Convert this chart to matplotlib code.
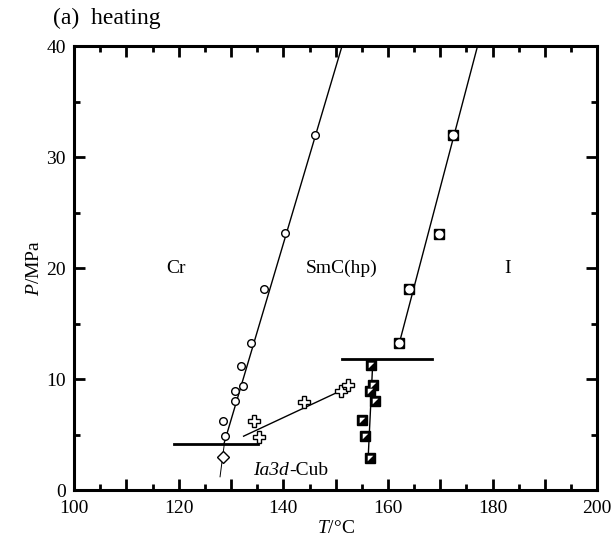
import matplotlib
matplotlib.use('Agg')
from matplotlib import pyplot as plt
from matplotlib.ticker import MultipleLocator, FuncFormatter

plt.rcParams['font.family'] = ['Liberation Serif', 'DejaVu Serif']
plt.rcParams['mathtext.fontset'] = 'custom'
plt.rcParams['mathtext.it'] = 'Liberation Serif:italic'
plt.rcParams['mathtext.rm'] = 'Liberation Serif'

# Cr -> SmC(hp) (open circles)
circ_T = [128.9, 128.5, 130.7, 130.7, 132.2, 131.9, 133.8, 136.3, 140.3, 146.1]
circ_P = [4.84, 6.2, 8.0, 8.9, 9.4, 11.2, 13.3, 18.1, 23.2, 32.0]
# Cr -> Ia3d-Cub (open crosses)
cross_T = [135.3, 134.3, 144.0, 151.0, 152.4]
cross_P = [4.8, 6.2, 7.9, 8.9, 9.5]
# Cub -> I (half filled squares)
half_T = [156.5, 155.6, 155.0, 157.6, 156.5, 157.2, 156.7]
half_P = [2.9, 4.86, 6.3, 8.05, 8.9, 9.46, 11.26]
# SmC(hp) -> I (open squares)
sq_T = [162.1, 164.1, 169.7, 172.5]
sq_P = [13.3, 18.1, 23.1, 32.0]
# Cr -> Cub (diamond)
dia_T = [128.5]
dia_P = [2.95]

# boundary lines
line_circ_T = [128.6, 151.2]
line_circ_P = [4.1, 40.0]
line_low_T = [127.9, 128.7]
line_low_P = [1.2, 4.1]
line_cross_T = [132.4, 151.5]
line_cross_P = [4.86, 9.07]
line_half_T = [156.2, 157.1]
line_half_P = [2.85, 11.65]
line_sq_T = [162.3, 177.1]
line_sq_P = [13.5, 40.0]
bar_low_T = [119.1, 135.2]
bar_low_P = [4.14, 4.14]
bar_high_T = [151.2, 168.4]
bar_high_P = [11.8, 11.8]

fig = plt.figure(figsize=(6.12, 5.38), dpi=100)
ax = fig.add_axes([0.121, 0.089, 0.855, 0.825])

lw = 1.0
ax.plot(line_circ_T, line_circ_P, color='black', lw=lw)
ax.plot(line_low_T, line_low_P, color='black', lw=0.7)
ax.plot(line_cross_T, line_cross_P, color='black', lw=lw)
ax.plot(line_half_T, line_half_P, color='black', lw=lw)
ax.plot(line_sq_T, line_sq_P, color='black', lw=lw)
ax.plot(bar_low_T, bar_low_P, color='black', lw=2.0)
ax.plot(bar_high_T, bar_high_P, color='black', lw=2.0)

ax.plot(circ_T, circ_P, 'o', ms=5.5, mfc='white', mec='black', mew=1.0)
ax.plot(cross_T, cross_P, 'P', ms=8, mfc='white', mec='black', mew=1.0)
ax.plot(dia_T, dia_P, 'D', ms=6, mfc='white', mec='black', mew=1.0)

# half filled squares: black square with white upper-left corner
ax.plot(half_T, half_P, 's', ms=7, mfc='black', mec='black', mew=1.0)
ax.plot(half_T, half_P, marker=[(-1, 1), (1, 1), (-1, -1)], ls='none',
        ms=4, mfc='white', mec='none')

# open squares: black square with white round inside
ax.plot(sq_T, sq_P, 's', ms=7.5, mfc='black', mec='black')
ax.plot(sq_T, sq_P, 'o', ms=6, mfc='white', mec='none')

ax.text(119.4, 20, 'Cr', ha='center', va='center', fontsize=14)
ax.text(151.1, 20, 'SmC(hp)', ha='center', va='center', fontsize=14)
ax.text(182.8, 20, 'I', ha='center', va='center', fontsize=14)
ax.text(141.1, 1.8, 'Ia3d', ha='right', va='center', fontsize=14, fontstyle='italic')
ax.text(141.1, 1.8, '-Cub', ha='left', va='center', fontsize=14)

ax.set_xlim(100, 200)
ax.set_ylim(0, 40)
ax.xaxis.set_major_locator(MultipleLocator(10))
ax.xaxis.set_minor_locator(MultipleLocator(5))
ax.xaxis.set_major_formatter(FuncFormatter(lambda v, p: '%d' % v if int(round(v)) % 20 == 0 else ''))
ax.yaxis.set_major_locator(MultipleLocator(10))
ax.yaxis.set_minor_locator(MultipleLocator(5))
ax.tick_params(which='both', direction='in', top=True, right=True, width=2, labelsize=14)
ax.tick_params(which='major', length=8)
ax.tick_params(which='minor', length=4)
ax.tick_params(axis='x', which='major', pad=7)
ax.tick_params(axis='y', which='major', pad=6)
for s in ax.spines.values():
    s.set_linewidth(2.2)

ax.set_xlabel(r'$T$/°C', fontsize=14, labelpad=2)
ax.set_ylabel(r'$P$/MPa', fontsize=14, labelpad=2)
fig.text(0.087, 0.965, '(a)  heating', fontsize=17, va='center', ha='left')

fig.savefig('out.png', dpi=100)
